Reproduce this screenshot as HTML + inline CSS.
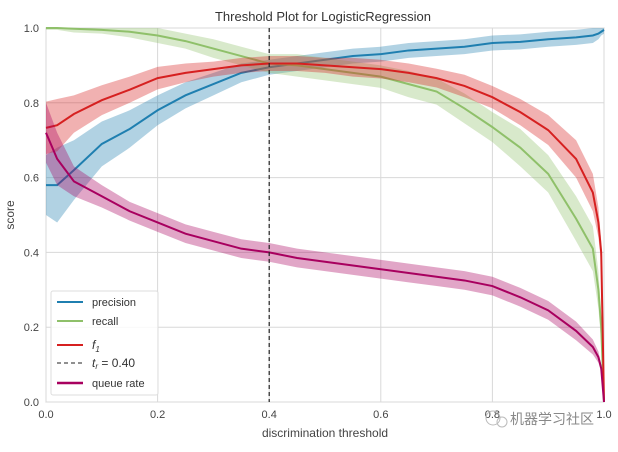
<!DOCTYPE html>
<html><head><meta charset="utf-8"><style>
body{margin:0;background:#fff;font-family:"Liberation Sans","Noto Sans CJK SC",sans-serif}
svg text{font-family:"Liberation Sans","Noto Sans CJK SC",sans-serif}
</style></head><body>
<svg id="c" width="618" height="447"></svg>
<script>
const thresholds=[0,0.02,0.05,0.1,0.15,0.2,0.25,0.3,0.35,0.4,0.45,0.5,0.55,0.6,0.65,0.7,0.75,0.8,0.85,0.9,0.95,0.98,0.99,0.995,1.0];
const precision=[0.58,0.58,0.62,0.69,0.73,0.78,0.82,0.85,0.88,0.895,0.905,0.915,0.925,0.93,0.94,0.945,0.95,0.96,0.963,0.97,0.975,0.98,0.985,0.99,0.995];
const precisionBand=[0.08,0.1,0.08,0.06,0.05,0.04,0.035,0.03,0.025,0.02,0.02,0.02,0.02,0.02,0.02,0.02,0.02,0.02,0.02,0.02,0.02,0.02,0.015,0.01,0.01];
const recall=[1.0,1.0,0.998,0.995,0.99,0.98,0.965,0.945,0.925,0.905,0.9,0.89,0.88,0.87,0.85,0.83,0.785,0.735,0.68,0.61,0.49,0.41,0.3,0.2,0.0];
const recallBand=[0.005,0.005,0.01,0.01,0.015,0.02,0.02,0.025,0.025,0.025,0.03,0.03,0.03,0.03,0.035,0.035,0.04,0.04,0.05,0.05,0.06,0.06,0.05,0.04,0.02];
const f1=[0.733,0.74,0.77,0.807,0.835,0.866,0.88,0.89,0.90,0.905,0.905,0.90,0.895,0.89,0.88,0.866,0.845,0.815,0.775,0.727,0.65,0.56,0.48,0.4,0.0];
const f1Band=[0.07,0.07,0.05,0.04,0.035,0.03,0.025,0.02,0.02,0.02,0.02,0.02,0.025,0.025,0.025,0.025,0.03,0.03,0.035,0.04,0.05,0.05,0.04,0.03,0.02];
const queue=[0.72,0.65,0.59,0.55,0.51,0.48,0.45,0.43,0.41,0.40,0.385,0.375,0.365,0.355,0.345,0.335,0.325,0.31,0.28,0.245,0.19,0.147,0.12,0.09,0.0];
const queueBand=[0.08,0.07,0.04,0.03,0.025,0.025,0.025,0.025,0.025,0.025,0.025,0.025,0.025,0.025,0.025,0.025,0.025,0.025,0.025,0.025,0.025,0.02,0.015,0.01,0.01];
const xTicks=[0,0.2,0.4,0.6,0.8,1.0];
const yTicks=[0,0.2,0.4,0.6,0.8,1.0];
const threshold=0.40;
const X0=46,X1=604,Y0=402,Y1=28;
const sx=v=>X0+v*(X1-X0), sy=v=>Y0-v*(Y0-Y1);
const svg=document.getElementById('c');const NS='http://www.w3.org/2000/svg';
function mk(t,a,p){const e=document.createElementNS(NS,t);for(const k in a)e.setAttribute(k,a[k]);(p||svg).appendChild(e);return e;}
const bg=mk('rect',{x:X0,y:Y1,width:X1-X0,height:Y0-Y1,fill:'#fff',stroke:'#ccc'});


xTicks.forEach(v=>{const l=mk('line',{x1:sx(v),x2:sx(v),y1:Y1,y2:Y0,stroke:'#d8d8d8'});


const t=mk('text',{x:sx(v),y:Y0+16,'font-size':11,fill:'#444','text-anchor':'middle'});t.textContent=v.toFixed(1);

});
yTicks.forEach(v=>{const l=mk('line',{x1:X0,x2:X1,y1:sy(v),y2:sy(v),stroke:'#d8d8d8'});


const t=mk('text',{x:X0-7,y:sy(v)+4,'font-size':11,fill:'#444','text-anchor':'end'});t.textContent=v.toFixed(1);

});
function series(vals,band,color,name){
 let up=thresholds.map((t,i)=>sx(t)+','+sy(Math.min(1,vals[i]+band[i])));
 let lo=thresholds.map((t,i)=>sx(t)+','+sy(Math.max(0,vals[i]-band[i]))).reverse();
 const b=mk('polygon',{points:up.concat(lo).join(' '),fill:color,'fill-opacity':0.35});
 
 
 const l=mk('polyline',{points:thresholds.map((t,i)=>sx(t)+','+sy(vals[i])).join(' '),fill:'none',stroke:color,'stroke-width':2});
 
 
}
series(precision,precisionBand,'#1f7fb0','precision');
series(recall,recallBand,'#8fc06a','recall');
series(f1,f1Band,'#d62020','f1');
series(queue,queueBand,'#a8005f','queue-rate');
const tl=mk('line',{x1:sx(threshold),x2:sx(threshold),y1:Y1,y2:Y0,stroke:'#222','stroke-dasharray':'4,3','stroke-width':1.2});


</script>
<svg width="618" height="447" style="position:absolute;left:0;top:0">
<text x="323" y="21" font-size="13" fill="#333" text-anchor="middle">Threshold Plot for LogisticRegression</text>
<text x="325" y="437" font-size="12" fill="#444" text-anchor="middle">discrimination threshold</text>
<text transform="translate(14,215) rotate(-90)" font-size="12" fill="#444" text-anchor="middle">score</text>
<g>
<rect x="51" y="291" width="107" height="104" fill="#fff" fill-opacity="0.85" stroke="#ddd" rx="2"/>
<line x1="57" x2="83" y1="302" y2="302" stroke="#1f7fb0" stroke-width="2"/><text x="92" y="306" font-size="11" fill="#333">precision</text>
<line x1="57" x2="83" y1="321" y2="321" stroke="#8fc06a" stroke-width="2"/><text x="92" y="325" font-size="11" fill="#333">recall</text>
<line x1="57" x2="83" y1="345" y2="345" stroke="#d62020" stroke-width="2"/><text x="92" y="349" font-size="12" font-style="italic" fill="#333">f<tspan font-size="8" dy="3">1</tspan></text>
<line x1="57" x2="83" y1="363" y2="363" stroke="#222" stroke-dasharray="4,3"/><text x="92" y="367" font-size="12" fill="#333"><tspan font-style="italic">t</tspan><tspan font-size="8" dy="2" font-style="italic">r</tspan><tspan dy="-2"> = 0.40</tspan></text>
<line x1="57" x2="83" y1="383" y2="383" stroke="#a8005f" stroke-width="2.5"/><text x="92" y="387" font-size="11" fill="#333">queue rate</text>
</g>
<g>
<circle cx="493" cy="418" r="7" fill="none" stroke="#bbb"/><circle cx="502" cy="422" r="5" fill="none" stroke="#bbb"/>
<text x="510" y="424" font-size="14" fill="#888">机器学习社区</text>
</g>
</svg>
</body></html>
